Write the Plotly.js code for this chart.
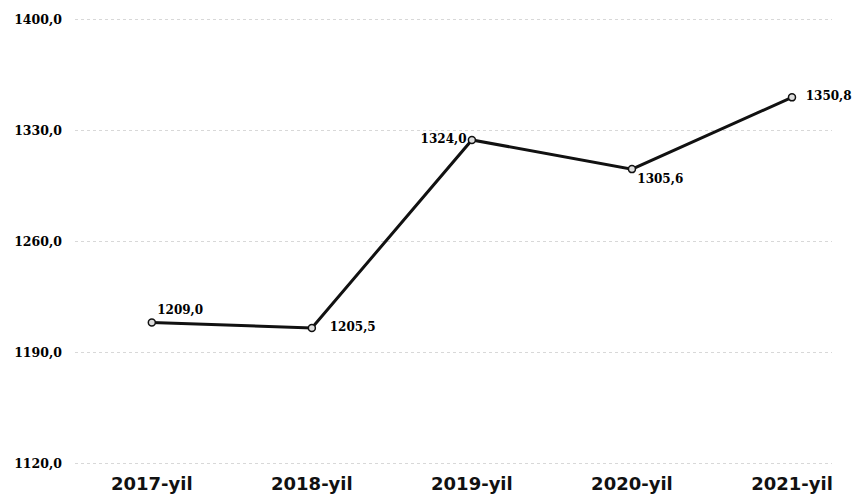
<!DOCTYPE html>
<html>
<head>
<meta charset="utf-8">
<script src="https://cdn.plot.ly/plotly-3.0.1.min.js"></script>
<style>html,body{margin:0;padding:0;background:#fff;}#chart{width:854px;height:501px;}</style>
</head>
<body>
<div id="chart"></div>
<script>
var categories = ['2017-yil', '2018-yil', '2019-yil', '2020-yil', '2021-yil'];
var values = [1209.0, 1205.5, 1324.0, 1305.6, 1350.8];
var yTickVals = [1120, 1190, 1260, 1330, 1400];
var yTickText = ['1120,0', '1190,0', '1260,0', '1330,0', '1400,0'];
var labelPositions = ['top right', 'middle right', 'middle left', 'bottom right', 'middle right'];
var labelTemplates = ['%{y:.1f}', '   %{y:.1f}', '%{y:.1f}', '%{y:.1f}', '  %{y:.1f}'];

var trace = {
  x: [0, 1, 2, 3, 4],
  y: values,
  type: 'scatter',
  mode: 'lines+markers+text',
  line: {color: '#111', width: 3},
  marker: {size: 7, color: '#ddd', line: {color: '#111', width: 1.5}},
  texttemplate: labelTemplates,
  textposition: labelPositions,
  textfont: {family: 'DejaVu Serif', size: 12, color: '#000', weight: 'bold'},
  cliponaxis: false,
  hoverinfo: 'none'
};

var layout = {
  width: 854, height: 501,
  margin: {l: 75, r: 22, t: 18, b: 36},
  paper_bgcolor: '#fff', plot_bgcolor: '#fff',
  separators: ', ',
  showlegend: false,
  xaxis: {
    range: [-0.48, 4.25],
    tickvals: [0, 1, 2, 3, 4],
    ticktext: categories,
    showgrid: false, zeroline: false, showline: false,
    ticks: '',
    ticklabelstandoff: 6,
    tickfont: {family: 'DejaVu Sans', size: 18, color: '#111', weight: 'bold'}
  },
  yaxis: {
    range: [1119.2, 1400.8],
    tickvals: yTickVals,
    ticktext: yTickText,
    showgrid: true, gridcolor: '#d8d8d8', griddash: 'dot', gridwidth: 1,
    zeroline: false, showline: false, ticks: '',
    ticklabelstandoff: 12,
    tickfont: {family: 'DejaVu Serif', size: 12.5, color: '#000', weight: 'bold'}
  }
};

Plotly.newPlot('chart', [trace], layout, {staticPlot: true, displayModeBar: false});
</script>
</body>
</html>
